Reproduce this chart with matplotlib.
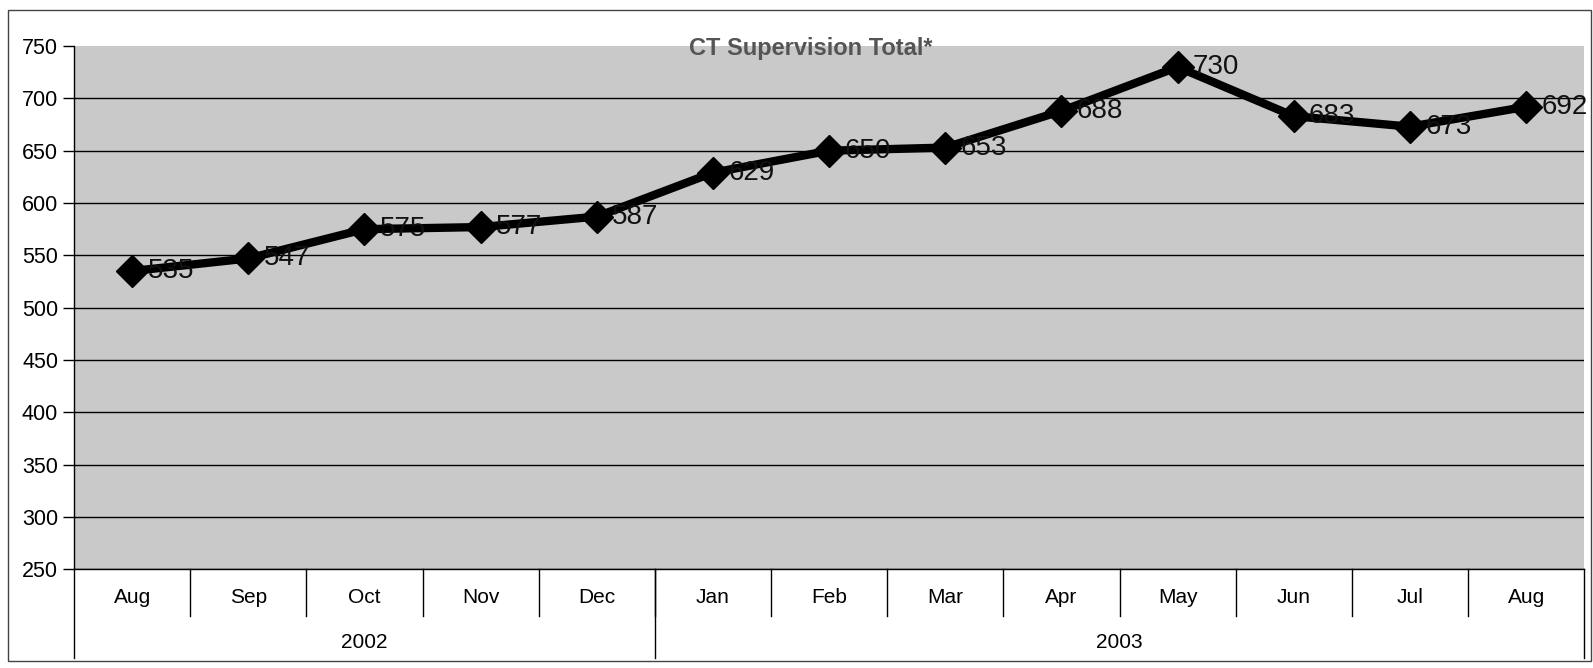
import numpy as np
import matplotlib.pyplot as plt
from matplotlib.patches import Rectangle

plt.rcParams['font.family'] = ['Liberation Sans', 'DejaVu Sans']

months = ["Aug", "Sep", "Oct", "Nov", "Dec", "Jan", "Feb", "Mar", "Apr", "May", "Jun", "Jul", "Aug"]
totals = [535, 547, 575, 577, 587, 629, 650, 653, 688, 730, 683, 673, 692]
years = ["2002", "2003"]
year_counts = [5, 8]

fig = plt.figure(figsize=(15.93, 6.68), dpi=100)
ax = fig.add_axes([0.0465, 0.148, 0.948, 0.783])
ax.set_facecolor("#c9c9c9")

# outer frame around the chart
fig.patches.append(Rectangle((0.005, 0.01), 0.994, 0.975, transform=fig.transFigure,
                             fill=False, edgecolor="#444444", linewidth=1))

x = np.arange(len(months)) + 0.5
ax.plot(x, totals, color="black", linewidth=6, marker="D", markersize=16,
        markerfacecolor="black", markeredgecolor="black", zorder=3)
for xi, v in zip(x, totals):
    ax.annotate(str(v), (xi, v), xytext=(11, 0), textcoords="offset points",
                ha="left", va="center", fontsize=20, color="#111111", zorder=4)

ax.set_xlim(0, len(months))
ax.set_ylim(250, 750)
ax.set_yticks(np.arange(250, 751, 50))
ax.tick_params(axis="y", labelsize=15.5, length=8, width=1, direction="out")
ax.set_xticks([])
ax.yaxis.grid(True, color="black", linewidth=1)
ax.yaxis.get_gridlines()[-1].set_visible(False)  # no line along the top edge
ax.set_axisbelow(True)
for s in ["top", "right"]:
    ax.spines[s].set_visible(False)
ax.spines["left"].set_linewidth(1)
ax.spines["bottom"].set_linewidth(1)

ax.text(0.488, 0.995, "CT Supervision Total*", transform=ax.transAxes, ha="center", va="center",
        fontsize=17, fontweight="bold", color="#555555")

# category axis: months and year groups
trans = ax.get_xaxis_transform()
for i, m in enumerate(months):
    ax.text(i + 0.5, -0.055, m, transform=trans, ha="center", va="center", fontsize=15)
for i in range(1, len(months)):
    ax.plot([i, i], [0, -0.09], transform=trans, color="black", linewidth=1, clip_on=False)
start = 0
edges = [0]
for y, n in zip(years, year_counts):
    ax.text(start + n / 2, -0.14, y, transform=trans, ha="center", va="center", fontsize=15)
    start += n
    edges.append(start)
for e in edges:
    ax.plot([e, e], [0, -0.17], transform=trans, color="black", linewidth=1, clip_on=False)

fig.savefig("out.png", dpi=100)
